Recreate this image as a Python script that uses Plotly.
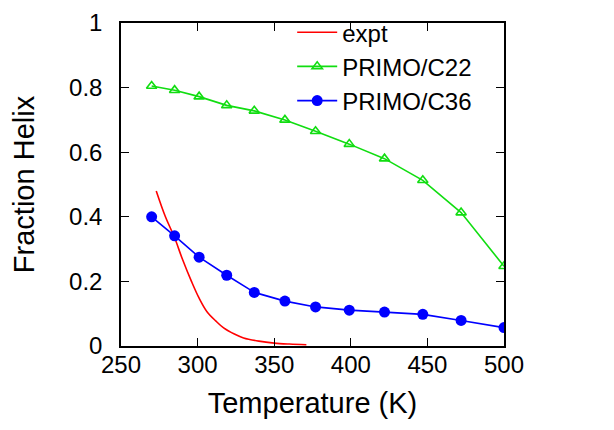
import plotly.graph_objects as go

# Data
temps = [270, 285, 301, 319, 337, 357, 377, 399, 422, 447, 472, 500]
c22 = [0.805, 0.792, 0.772, 0.745, 0.728, 0.700, 0.665, 0.625, 0.580, 0.513, 0.413, 0.247]
c36 = [0.400, 0.341, 0.275, 0.219, 0.166, 0.139, 0.121, 0.111, 0.105, 0.098, 0.079, 0.057]

expt_t = [273, 279, 285, 290, 296, 301, 306, 312, 317, 324, 330, 340, 350, 360, 371]
expt_f = [0.480, 0.400, 0.335, 0.270, 0.200, 0.148, 0.107, 0.077, 0.056, 0.037, 0.025, 0.015, 0.009, 0.006, 0.004]

x_ticks = [250, 300, 350, 400, 450, 500]
y_ticks = [0, 0.2, 0.4, 0.6, 0.8, 1]
y_ticklabels = ["0", "0.2", "0.4", "0.6", "0.8", "1"]

FONT = "Liberation Sans, Arial, sans-serif"

fig = go.Figure()
fig.add_trace(go.Scatter(x=expt_t, y=expt_f, mode="lines", name="expt",
                         line=dict(color="#ff0000", width=1.6, shape="spline")))
fig.add_trace(go.Scatter(x=temps, y=c22, mode="lines+markers", name="PRIMO/C22",
                         line=dict(color="#11dd11", width=1.6),
                         marker=dict(symbol="triangle-up-open", size=9,
                                     color="#11dd11", line=dict(width=1.6))))
fig.add_trace(go.Scatter(x=temps, y=c36, mode="lines+markers", name="PRIMO/C36",
                         line=dict(color="#0000ff", width=1.6),
                         marker=dict(symbol="circle", size=11, color="#0000ff")))

fig.update_layout(
    width=614, height=430,
    margin=dict(l=113, r=118, t=15, b=92, autoexpand=False),
    paper_bgcolor="white", plot_bgcolor="white",
    font=dict(family=FONT, size=24, color="black"),
    showlegend=True,
    legend=dict(x=0.93, y=1.04, xanchor="right", yanchor="top",
                bgcolor="rgba(0,0,0,0)", font=dict(size=24),
                tracegroupgap=0, itemwidth=40),
)
fig.update_xaxes(range=[250, 500], tickvals=x_ticks, ticks="inside", ticklen=8,
                 tickcolor="black", showline=True, linecolor="black", linewidth=1.5,
                 mirror="ticks", showgrid=False, zeroline=False, automargin=False,
                 ticklabelstandoff=-4,
                 title=dict(text="Temperature (K)", standoff=16))
fig.update_yaxes(range=[0, 1], tickvals=y_ticks, ticktext=y_ticklabels,
                 ticks="inside", ticklen=8, tickcolor="black", showline=True,
                 linecolor="black", linewidth=1.5, mirror="ticks", automargin=False,
                 showgrid=False, zeroline=False, ticklabelstandoff=12,
                 title=dict(text="Fraction Helix", standoff=38))

fig.write_html("out.html")
